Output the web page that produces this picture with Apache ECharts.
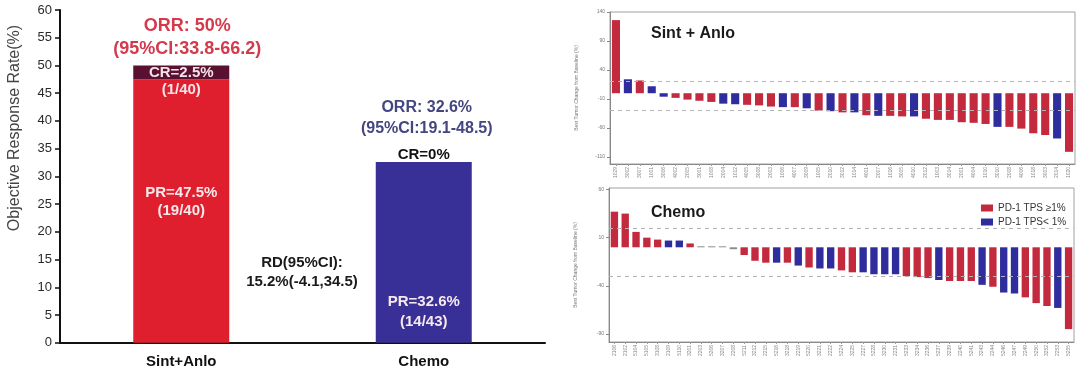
<!DOCTYPE html>
<html><head><meta charset="utf-8">
<script src="https://cdn.jsdelivr.net/npm/echarts@6/dist/echarts.min.js"></script>
<style>html,body{margin:0;padding:0;background:#fff}#c{width:1080px;height:371px}</style>
</head><body><div id="c"></div><script>
// ---------- Left panel data ----------
const arms = ['Sint+Anlo', 'Chemo'];
const prValues = [47.5, 32.6];
const prCounts = ['19/40', '14/43'];
const crValues = [2.5, 0];
const crCounts = ['1/40', ''];
const orrValues = [50, 32.6];
const orrCI = ['33.8-66.2', '19.1-48.5'];
const rdValue = 15.2;
const rdCI = [-4.1, 34.5];
const leftTicks = [0, 60, 5];

// ---------- Right panel data ----------
const sintIds = ['1029','3002','3007','1001','3006','4002','2005','3001','1008','2004','1012','4005','3008','2003','1006','4007','3009','1005','2010','3012','1014','4001','2007','1016','3005','4010','2012','1003','3014','2001','4004','1010','3010','2008','4006','1018','3003','2014','1020'];
const sintChange = [126,24,22,12,-6,-8,-11,-13,-15,-18,-19,-20,-21,-23,-24,-24,-26,-30,-31,-33,-33,-38,-39,-39,-40,-40,-44,-46,-46,-50,-51,-53,-58,-58,-61,-69,-72,-78,-101];
const sintTPS = ['R','B','R','B','B','R','R','R','R','B','B','R','R','R','B','R','B','R','B','R','B','R','B','R','R','B','R','R','R','R','R','R','B','R','R','R','R','B','R'];
const sintTicks = [-110, -60, -10, 40, 90, 140];

const chemoIds = ['2106','2102','5104','5105','3108','2109','5110','3201','2203','5206','3207','2208','5211','3212','2215','5216','3218','2219','5220','3221','2222','5224','3225','2227','5228','3230','2231','5233','3234','2236','5237','3239','2240','5241','3243','2244','5246','3247','2249','5250','3252','2253','5255'];
const chemoChange = [37,35,16,10,8,7,7,4,1,1,1,-2,-8,-14,-16,-16,-16,-19,-21,-22,-22,-24,-26,-26,-28,-28,-28,-30,-31,-32,-34,-35,-35,-35,-39,-41,-47,-48,-52,-58,-61,-63,-85];
const chemoTPS = ['R','R','R','R','R','B','B','R','G','G','G','G','R','R','R','B','R','B','R','B','B','R','R','B','B','B','B','R','R','R','B','R','R','R','B','R','B','B','R','R','R','B','R'];
const chemoTicks = [-90, -40, 10, 60];
const thresholds = [20, -30];
const legendNames = ['PD-1 TPS \u22651%', 'PD-1 TPS< 1%'];

// ---------- Styles ----------
const armColors = ['#e01f2e', '#383096'];
const crColor = '#5a1131';
const tpsColors = { R: '#c42a3e', B: '#2f2d9e', G: '#8a8a8a' };

const chart = echarts.init(document.getElementById('c'));

function pick(values, groups, g) {
  return values.map((v, i) => groups[i] === g ? v : null);
}

function waterfallSeries(values, groups, axisIdx) {
  const out = [];
  [['R', legendNames[0]], ['B', legendNames[1]], ['G', 'NA']].forEach(([g, name], k) => {
    if (!groups.includes(g)) return;
    const s = {
      name: name, type: 'bar', xAxisIndex: axisIdx, yAxisIndex: axisIdx,
      data: pick(values, groups, g), barWidth: '68%', barGap: '-100%',
      itemStyle: { color: tpsColors[g] }, silent: true
    };
    if (k === 0) {
      s.markLine = {
        silent: true, symbol: 'none', label: { show: false },
        lineStyle: { color: '#b3b3b3', type: [4, 4], width: 1 },
        data: thresholds.map(t => ({ yAxis: t }))
      };
    }
    out.push(s);
  });
  return out;
}

const prData = prValues.map((v, i) => ({
  value: v,
  itemStyle: { color: armColors[i] },
  label: { offset: i === 0 ? [0, -9] : [0, 60], lineHeight: i === 0 ? 18 : 20 }
}));
const crData = crValues.map((v, i) => (i === 0 ? {
  value: v, itemStyle: { color: crColor },
  label: { position: 'inside', color: '#f4e4e8', offset: [0, 9], lineHeight: 17 }
} : {
  value: v, itemStyle: { color: armColors[i] },
  label: { position: 'top', color: '#111', distance: 0 }
}));
const orrData = orrValues.map((v, i) => ({
  value: 0,
  label: i === 0
    ? { color: '#d4394c', fontSize: 18, lineHeight: 23, distance: 5, offset: [6, 0] }
    : { color: '#43467f', fontSize: 16, lineHeight: 21, distance: 23, offset: [3, 0] }
}));

const rightAxisLabel = { fontSize: 5, color: '#777' };

chart.setOption({
  animation: false,
  title: [
    { text: 'Sint + Anlo', left: 646, top: 21, textStyle: { fontSize: 16, fontWeight: 'bold', color: '#1a1a1a', fontFamily: 'Liberation Sans' } },
    { text: 'Chemo', left: 646, top: 200, textStyle: { fontSize: 16, fontWeight: 'bold', color: '#1a1a1a', fontFamily: 'Liberation Sans' } }
  ],
  legend: {
    data: legendNames, orient: 'vertical', left: 976, top: 198,
    itemWidth: 12, itemHeight: 7, itemGap: 4, icon: 'rect',
    textStyle: { fontSize: 10, color: '#333', fontFamily: 'Liberation Sans' }
  },
  textStyle: { fontFamily: 'Liberation Sans' },
  grid: [
    { left: 60, top: 10, width: 485, height: 332.7 },
    { left: 610, top: 12, width: 465, height: 152, show: true, borderColor: '#a0a0a0', borderWidth: 1 },
    { left: 609, top: 188, width: 465, height: 154, show: true, borderColor: '#a0a0a0', borderWidth: 1 }
  ],
  xAxis: [
    { type: 'category', gridIndex: 0, data: arms,
      axisLine: { lineStyle: { color: '#111', width: 2 } }, axisTick: { show: false },
      axisLabel: { fontSize: 15, fontWeight: 'bold', color: '#111', margin: 12 } },
    { type: 'category', gridIndex: 1, data: sintIds,
      axisLine: { onZero: false, lineStyle: { color: '#888' } },
      axisTick: { show: true, alignWithLabel: true, length: 2, lineStyle: { color: '#999' } },
      axisLabel: { rotate: 90, interval: 0, fontSize: 5, color: '#888', margin: 3 } },
    { type: 'category', gridIndex: 2, data: chemoIds,
      axisLine: { onZero: false, lineStyle: { color: '#888' } },
      axisTick: { show: true, alignWithLabel: true, length: 2, lineStyle: { color: '#999' } },
      axisLabel: { rotate: 90, interval: 0, fontSize: 5, color: '#888', margin: 3 } }
  ],
  yAxis: [
    { type: 'value', gridIndex: 0, min: leftTicks[0], max: leftTicks[1], interval: leftTicks[2],
      axisLine: { show: true, lineStyle: { color: '#111', width: 2 } },
      axisTick: { show: true, length: 5, lineStyle: { color: '#111', width: 1.5 } },
      axisLabel: { fontSize: 13, color: '#2a2a2a', margin: 8 }, splitLine: { show: false } },
    { type: 'value', gridIndex: 1, min: -122, max: 140,
      axisLine: { show: true, lineStyle: { color: '#888' } },
      axisTick: { show: true, length: 3, customValues: sintTicks, lineStyle: { color: '#888' } },
      axisLabel: Object.assign({ customValues: sintTicks, margin: 5 }, rightAxisLabel),
      splitLine: { show: false },
      name: 'Best Tumor Change from Baseline (%)', nameLocation: 'middle', nameGap: 31,
      nameTextStyle: { fontSize: 5, color: '#777' } },
    { type: 'value', gridIndex: 2, min: -98.4, max: 61.6,
      axisLine: { show: true, lineStyle: { color: '#888' } },
      axisTick: { show: true, length: 3, customValues: chemoTicks, lineStyle: { color: '#888' } },
      axisLabel: Object.assign({ customValues: chemoTicks, margin: 5 }, rightAxisLabel),
      splitLine: { show: false },
      name: 'Best Tumor Change from Baseline (%)', nameLocation: 'middle', nameGap: 31,
      nameTextStyle: { fontSize: 5, color: '#777' } }
  ],
  series: [
    { name: 'PR', type: 'bar', xAxisIndex: 0, yAxisIndex: 0, stack: 'orr', barWidth: 96, silent: true,
      data: prData,
      label: { show: true, position: 'inside', color: '#f6e9ec', fontSize: 15, fontWeight: 'bold',
        formatter: p => `PR=${prValues[p.dataIndex]}%\n(${prCounts[p.dataIndex]})` } },
    { name: 'CR', type: 'bar', xAxisIndex: 0, yAxisIndex: 0, stack: 'orr', barWidth: 96, silent: true,
      data: crData,
      label: { show: true, fontSize: 15, fontWeight: 'bold',
        formatter: p => crCounts[p.dataIndex] ? `CR=${crValues[p.dataIndex]}%\n(${crCounts[p.dataIndex]})` : `CR=${crValues[p.dataIndex]}%` } },
    { name: 'ORR', type: 'bar', xAxisIndex: 0, yAxisIndex: 0, stack: 'orr', barWidth: 96, silent: true,
      itemStyle: { color: 'rgba(0,0,0,0)' },
      data: orrData,
      label: { show: true, position: 'top', fontWeight: 'bold',
        formatter: p => `ORR: ${orrValues[p.dataIndex]}%\n(95%CI:${orrCI[p.dataIndex]})` } },
    ...waterfallSeries(sintChange, sintTPS, 1),
    ...waterfallSeries(chemoChange, chemoTPS, 2)
  ],
  graphic: [
    { type: 'text', x: 15, y: 128, rotation: Math.PI / 2,
      style: { text: 'Objective Response Rate(%)', fill: '#444', font: '16px "Liberation Sans"', textAlign: 'center', textVerticalAlign: 'middle' } },
    { type: 'text', x: 302, y: 272,
      style: { text: `RD(95%CI):\n${rdValue}%(${rdCI[0]},${rdCI[1]})`, fill: '#1a1a1a', font: 'bold 15px "Liberation Sans"', lineHeight: 19, textAlign: 'center', textVerticalAlign: 'middle' } }
  ]
});
</script></body></html>
